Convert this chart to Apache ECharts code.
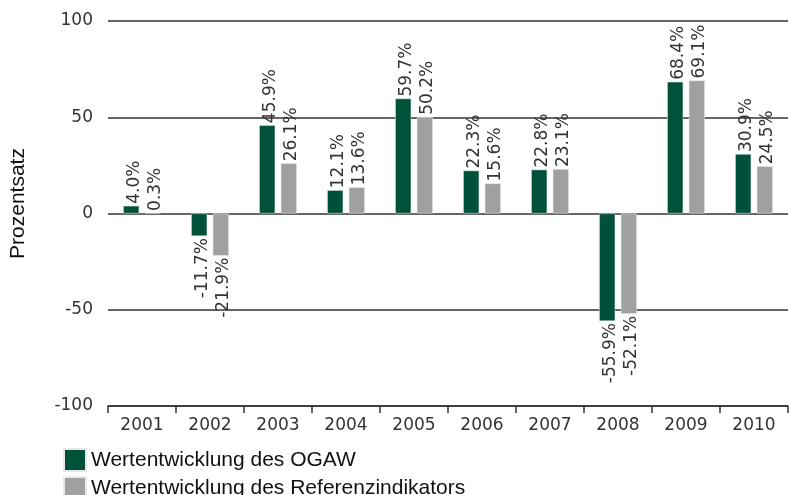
<!DOCTYPE html>
<html><head><meta charset="utf-8">
<script src="https://cdn.jsdelivr.net/npm/echarts@6/dist/echarts.min.js"></script>
<style>html,body{margin:0;padding:0;background:#fff}#c{width:789px;height:495px}</style>
</head><body><div id="c"></div>
<script>
var categories = ['2001','2002','2003','2004','2005','2006','2007','2008','2009','2010'];
var ogaw = [4.0, -11.7, 45.9, 12.1, 59.7, 22.3, 22.8, -55.9, 68.4, 30.9];
var referenz = [0.3, -21.9, 26.1, 13.6, 50.2, 15.6, 23.1, -52.1, 69.1, 24.5];
var yTicks = [-100, -50, 0, 50, 100];
var seriesNames = ['Wertentwicklung des OGAW', 'Wertentwicklung des Referenzindikators'];

function mkData(arr) {
  return arr.map(function (v) {
    return {
      value: v,
      label: v < 0 ? { position: 'bottom', align: 'right', offset: [0, 3] } : { position: 'top', align: 'left', offset: [0, 3] }
    };
  });
}
var labelBase = {
  show: true, rotate: 90, distance: 2, verticalAlign: 'middle',
  fontFamily: 'DejaVu Sans', fontSize: 17, color: '#333',
  formatter: function (p) { return p.value.toFixed(1) + '%'; }
};
var legendText = { fontFamily: 'Liberation Sans', fontSize: 21, color: '#111' };
var chart = echarts.init(document.getElementById('c'), null, { renderer: 'canvas' });
chart.setOption({
  animation: false,
  legend: [
    { orient: 'vertical', left: 63, top: 448, padding: 0, itemWidth: 22, itemHeight: 22, icon: 'rect',
      textStyle: legendText, data: [seriesNames[0]] },
    { orient: 'vertical', left: 63, top: 476, padding: 0, itemWidth: 22, itemHeight: 22, icon: 'rect',
      textStyle: legendText, data: [seriesNames[1]] }
  ],
  grid: { left: 107, right: 1, top: 21, bottom: 89, containLabel: false },
  xAxis: {
    type: 'category', data: categories,
    axisLine: { show: true, onZero: false, lineStyle: { color: '#333', width: 1.5 } },
    axisTick: { show: true, length: 7, lineStyle: { color: '#333', width: 1.5 } },
    axisLabel: { fontFamily: 'DejaVu Sans', fontSize: 17, color: '#333', margin: 11 }
  },
  yAxis: {
    type: 'value', min: -100, max: 100, interval: 50,
    name: 'Prozentsatz', nameLocation: 'middle', nameGap: 79, nameRotate: 90,
    nameTextStyle: { fontFamily: 'Liberation Sans', fontSize: 21, color: '#111', padding: [0, 0, 0, 20] },
    axisLine: { show: false }, axisTick: { show: false },
    axisLabel: { fontFamily: 'DejaVu Sans', fontSize: 17, color: '#333', margin: 15,
      formatter: function (v) { return yTicks.indexOf(v) >= 0 ? String(v) : ''; } },
    splitLine: { lineStyle: { color: '#333', width: 1.5 } }
  },
  series: [
    { name: seriesNames[0], type: 'bar', data: mkData(ogaw), barWidth: 16, barGap: '35%',
      itemStyle: { color: '#00513A', borderColor: '#e8e8e8', borderWidth: 0.5 }, label: labelBase },
    { name: seriesNames[1], type: 'bar', data: mkData(referenz), barWidth: 16,
      itemStyle: { color: '#A0A0A0', borderColor: '#e8e8e8', borderWidth: 0.5 }, label: labelBase }
  ]
});
</script></body></html>
